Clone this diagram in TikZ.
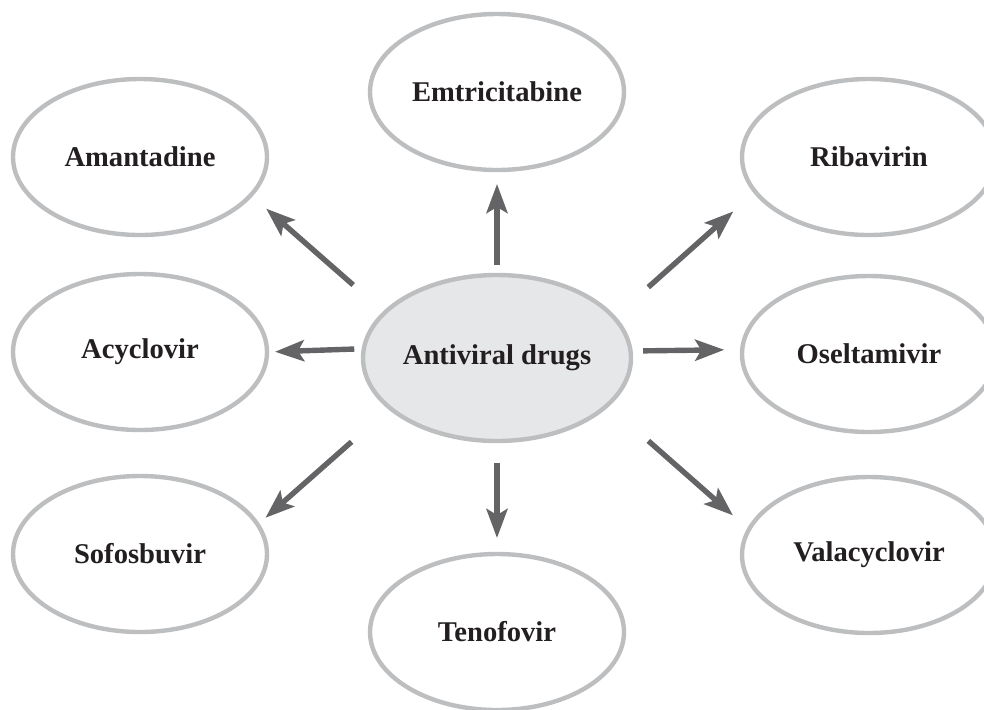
\documentclass[tikz,border=0pt]{standalone}
\usepackage{fontspec}
\setmainfont{Liberation Serif}
\usetikzlibrary{arrows.meta,shapes.geometric}
\definecolor{rimgray}{HTML}{BCBEC0}
\definecolor{arrgray}{HTML}{646466}
\definecolor{hubfill}{HTML}{E6E7E8}
\definecolor{inkblack}{HTML}{231F20}

\begin{document}
\begin{tikzpicture}[x=0.5pt,y=-0.5pt,
  drug/.style={ellipse, draw=rimgray, line width=2.2pt, fill=white,
    minimum width=127pt, minimum height=78pt, inner sep=0pt, outer sep=0pt,
    font=\fontsize{14.3}{16}\selectfont\bfseries, text=inkblack},
  hub/.style={drug, fill=hubfill, minimum width=134pt, minimum height=83pt},
  feed/.style={draw=arrgray, line width=2.7pt,
    -{Stealth[length=14.5pt,width=10.5pt,inset=3pt]}}]
  \useasboundingbox (0,0) rectangle (984,709);
  \node[hub] (hub) at (497,358) {Antiviral drugs};
  \node[drug] (emt) at (497,92) {Emtricitabine};
  \node[drug] (tnf) at (497,632) {Tenofovir};
  \node[drug] (ama) at (140,157) {Amantadine};
  \node[drug] (acy) at (140,352) {Acyclovir};
  \node[drug] (sof) at (140,554) {Sofosbuvir};
  \node[drug] (rib) at (869,157) {Ribavirin};
  \node[drug] (ose) at (869,354) {Oseltamivir};
  \node[drug] (val) at (869,555) {Valacyclovir};
  \draw[feed, shorten <=5.25pt, shorten >=7pt] (hub.north) -- (emt.south);
  \draw[feed, shorten <=10.75pt, shorten >=8pt] (hub.south) -- (tnf.north);
  \draw[feed, shorten <=4.8pt, shorten >=4pt] (hub.176.6) -- (acy.0.9);
  \draw[feed, shorten <=6.3pt, shorten >=9pt] (hub.3.4) -- (ose.178.2);
  \draw[feed, shorten <=21pt, shorten >=10.25pt] (hub.158.6) -- (ama.-19.8);
  \draw[feed, shorten <=22.9pt, shorten >=14.75pt] (hub.19.8) -- (rib.-163.5);
  \draw[feed, shorten <=25.6pt, shorten >=5.2pt] (hub.205.5) -- (sof.14.4);
  \draw[feed, shorten <=27.2pt, shorten >=10.7pt] (hub.-23.9) -- (val.168.6);
\end{tikzpicture}
\end{document}
